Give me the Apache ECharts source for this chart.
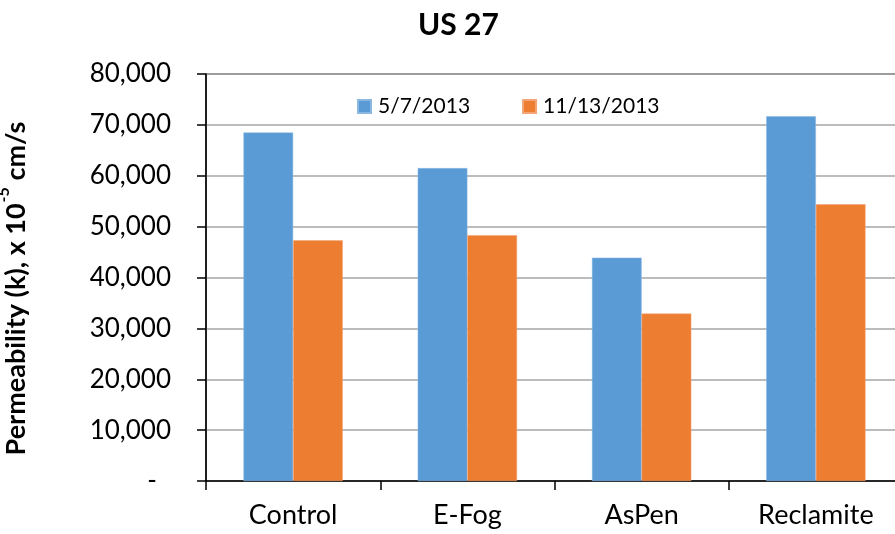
<!DOCTYPE html>
<html>
<head>
<meta charset="utf-8">
<script src="https://cdn.jsdelivr.net/npm/echarts@6/dist/echarts.min.js"></script>
<style>html,body{margin:0;padding:0;background:#fff}#c{width:895px;height:534px}</style>
</head>
<body>
<div id="c"></div>
<script>
const categories = ['Control', 'E-Fog', 'AsPen', 'Reclamite'];
const seriesNames = ['5/7/2013', '11/13/2013'];
const may2013 = [68500, 61500, 43900, 71700];
const nov2013 = [47300, 48300, 32900, 54400];
const yTicks = [0, 10000, 20000, 30000, 40000, 50000, 60000, 70000, 80000];

const FONT = 'Lato';
const chart = echarts.init(document.getElementById('c'), null, {renderer: 'canvas'});
chart.setOption({
  animation: false,
  backgroundColor: '#fff',
  title: {
    text: 'US 27',
    left: 413, top: 5,
    textStyle: {fontFamily: FONT, fontWeight: 'bold', fontSize: 30, color: '#000'}
  },
  legend: {
    data: seriesNames,
    left: 352, top: 91,
    itemWidth: 13, itemHeight: 13, itemGap: 52,
    icon: 'rect',
    textStyle: {fontFamily: FONT, fontSize: 21, color: '#000', padding: [0, 0, 0, 2]}
  },
  grid: {left: 206, top: 74, width: 697, bottom: 53, show: true, borderColor: '#000', borderWidth: 1,
         containLabel: false, outerBoundsMode: 'none'},
  xAxis: {
    type: 'category',
    data: categories,
    axisLine: {lineStyle: {color: '#000', width: 1.5}},
    axisTick: {show: true, length: 9, lineStyle: {color: '#000', width: 1.5}},
    axisLabel: {fontFamily: FONT, fontSize: 27, color: '#000', margin: 21}
  },
  yAxis: {
    type: 'value',
    min: yTicks[0], max: yTicks[yTicks.length - 1], interval: yTicks[1] - yTicks[0],
    axisLine: {show: true, lineStyle: {color: '#000', width: 1.5}},
    axisTick: {show: true, length: 9, lineStyle: {color: '#000', width: 1.5}},
    splitLine: {lineStyle: {color: '#a6a6a6', width: 1.5}},
    axisLabel: {
      fontFamily: FONT, fontSize: 26, color: '#000', margin: 35,
      formatter: v => v === 0 ? '{d|-}' : v.toLocaleString('en-US'),
      rich: {d: {fontFamily: FONT, fontSize: 26, color: '#000', padding: [0, 14, 0, 0]}}
    },
    name: '{a|Permeability (k), x 10}{s|-5}{a| cm/s}',
    nameLocation: 'middle',
    nameGap: 176,
    nameRotate: 90,
    nameTextStyle: {
      padding: [0, 22, 0, 0],
      rich: {
        a: {fontFamily: FONT, fontWeight: 'bold', fontSize: 27, color: '#000', verticalAlign: 'bottom', lineHeight: 34},
        s: {fontFamily: FONT, fontWeight: 'bold', fontSize: 16, color: '#000', verticalAlign: 'top', lineHeight: 34, padding: [0, 0, 14, 1]}
      }
    }
  },
  series: [
    {name: seriesNames[0], type: 'bar', data: may2013, barGap: '0%', barCategoryGap: '43%',
     itemStyle: {color: '#5b9bd5', borderColor: '#8ab8e2', borderWidth: 0.5}},
    {name: seriesNames[1], type: 'bar', data: nov2013, barGap: '0%', barCategoryGap: '43%',
     itemStyle: {color: '#ed7d31', borderColor: '#f3a577', borderWidth: 0.5}}
  ]
});
</script>
</body>
</html>
